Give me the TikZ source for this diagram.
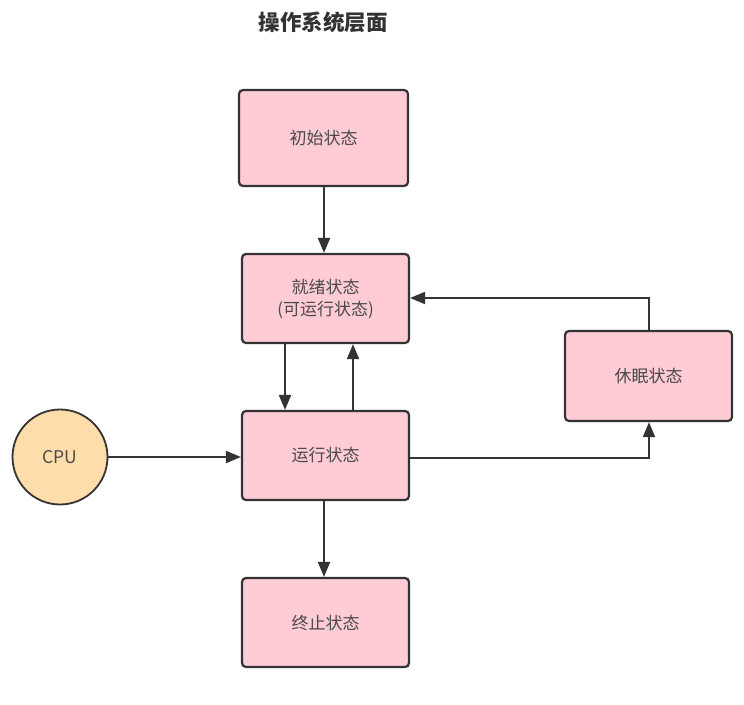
\documentclass[tikz,border=0pt]{standalone}
\usepackage{fontspec}
\setmainfont{Noto Sans CJK SC}
\usetikzlibrary{arrows.meta}
\definecolor{boxpink}{HTML}{FFCCD5}
\definecolor{cpuorange}{HTML}{FFDDAA}
\definecolor{linegray}{HTML}{333333}
\definecolor{textgray}{HTML}{4A4A4A}
\begin{document}
\begin{tikzpicture}[x=1pt,y=-1pt,
  statebox/.style={draw=linegray,line width=2.2pt,fill=boxpink,rounded corners=4pt,
    minimum width=167pt,minimum height=89pt,align=center,text=textgray,
    font=\fontsize{17pt}{22pt}\selectfont,inner sep=0pt},
  cpunode/.style={draw=linegray,line width=1.8pt,fill=cpuorange,circle,minimum size=95pt,
    text=textgray,font=\fontsize{17.5pt}{20pt}\selectfont,inner sep=0pt},
  conn/.style={draw=linegray,line width=2pt,-{Triangle[length=15pt,width=12pt]}}]
\useasboundingbox (0,0) rectangle (744,704);
\node[font=\bfseries\fontsize{21.5pt}{24pt}\selectfont,text=linegray] (title) at (323,22) {操作系统层面};
\node[statebox,minimum width=169pt,minimum height=96pt] (init) at (323.5,138) {初始状态};
\node[statebox] (ready) at (325.5,298.5) {就绪状态\\(可运行状态)};
\node[statebox] (run) at (325.5,455.5) {运行状态};
\node[statebox] (term) at (325.5,622.5) {终止状态};
\node[statebox,minimum height=90pt] (sleep) at (648.5,376) {休眠状态};
\node[cpunode] (cpu) at (60,457) {CPU};
\draw[conn] (init.south -| 324,0) -- (ready.north -| 324,0);
\draw[conn] (ready.south -| 285,0) -- (run.north -| 285,0);
\draw[conn] (run.north -| 353,0) -- (ready.south -| 353,0);
\draw[conn] (run.south -| 324,0) -- (term.north -| 324,0);
\draw[conn] (cpu.east) -- (run.west |- cpu.east);
\draw[conn] (run.east |- 0,458) -- (649,458) -- (sleep.south -| 649,0);
\draw[conn] (sleep.north -| 649,0) -- (649,298) -- (ready.east |- 0,298);
\end{tikzpicture}
\end{document}
